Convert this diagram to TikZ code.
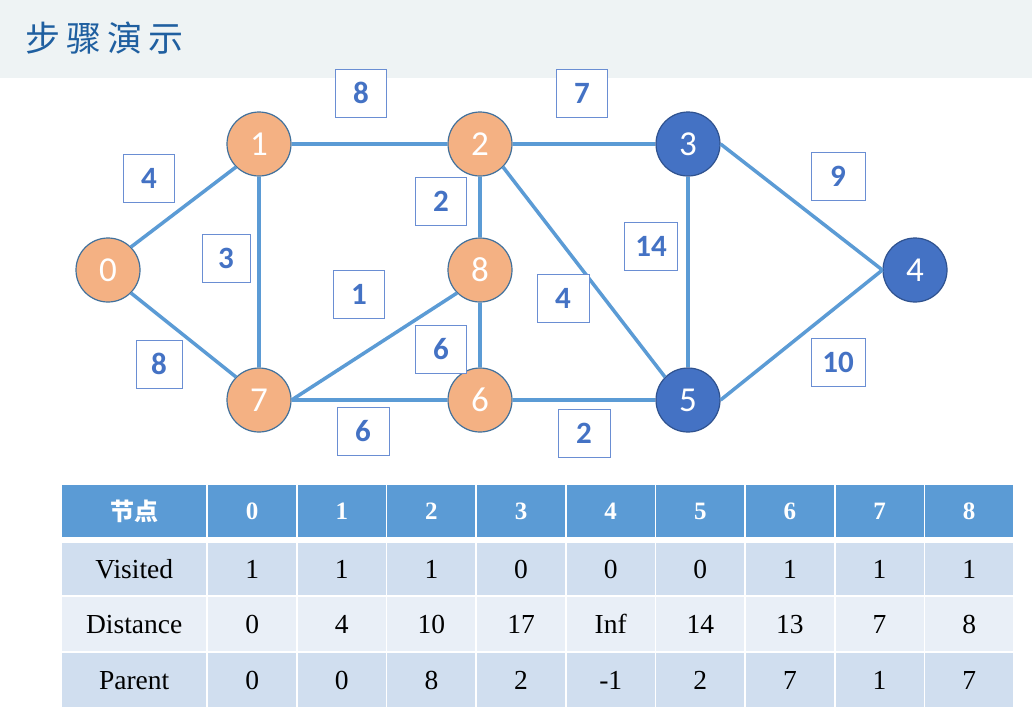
\documentclass[tikz,border=0pt]{standalone}
\usepackage{fontspec}
\setmainfont{Liberation Serif}
\newfontfamily\cjk{Noto Sans CJK SC}
\newfontfamily\calib{Carlito}
\definecolor{edgeblue}{HTML}{5B9BD5}
\definecolor{ofill}{HTML}{F4B183}
\definecolor{oline}{HTML}{41719C}
\definecolor{bfill}{HTML}{4472C4}
\definecolor{bline}{HTML}{2F528F}
\definecolor{lblue}{HTML}{D0DEEF}
\definecolor{llblue}{HTML}{E9EFF7}
\definecolor{hdr}{HTML}{5B9BD5}
\definecolor{titlebar}{HTML}{EEF3F4}
\definecolor{titletext}{HTML}{1F5FA0}
\definecolor{lbltext}{HTML}{4472C4}
\definecolor{lblline}{HTML}{6A8ED3}
\tikzset{
  vtx/.style={circle,minimum size=64pt,inner sep=0pt,line width=1.2pt,text=white,
    font=\calib\fontsize{35}{38}\selectfont},
  ovtx/.style={vtx,fill=ofill,draw=oline},
  bvtx/.style={vtx,fill=bfill,draw=bline},
  edge/.style={draw=edgeblue,line width=3.5pt},
  wlabel/.style={draw=lblline,line width=0.9pt,fill=white,minimum width=51pt,minimum height=48pt,
    inner sep=0pt,text=lbltext,font=\calib\bfseries\fontsize{31}{34}\selectfont},
  cell/.style={anchor=north west,inner sep=0pt,minimum height=#1,text=black,
    font=\fontsize{27.5}{30}\selectfont},
  hcell/.style={anchor=north west,inner sep=0pt,minimum height=52pt,fill=hdr,text=white,
    font=\bfseries\fontsize{25}{30}\selectfont}
}
\begin{document}
\begin{tikzpicture}[x=1pt,y=-1pt]
\useasboundingbox (0,0) rectangle (1032,721);
\fill[white] (0,0) rectangle (1032,721);
\fill[titlebar] (0,0) rectangle (1032,78);
\node[anchor=west,inner sep=0pt,text=titletext,font=\cjk\fontsize{35}{40}\selectfont] (title) at (25,38) {步\hspace{6pt}骤\hspace{6pt}演\hspace{6pt}示};

% vertices
\node[ovtx] (n0) at (108,270) {0};
\node[ovtx] (n1) at (259,144) {1};
\node[ovtx] (n2) at (480,144) {2};
\node[bvtx] (n3) at (688,144) {3};
\node[bvtx] (n4) at (915,270) {4};
\node[bvtx] (n5) at (688,400) {5};
\node[ovtx] (n6) at (480,400) {6};
\node[ovtx] (n7) at (259,400) {7};
\node[ovtx] (n8) at (480,270) {8};

% edges
\draw[edge] (n0.north east) -- (n1.south west);
\draw[edge] (n0.south east) -- (n7.north west);
\draw[edge] (n1.east) -- (n2.west);
\draw[edge] (n1.south) -- (n7.north);
\draw[edge] (n2.east) -- (n3.west);
\draw[edge] (n2.south) -- (n8.north);
\draw[edge] (n2.south east) -- (n5.north west);
\draw[edge] (n3.south) -- (n5.north);
\draw[edge] (n3.east) -- (n4.west);
\draw[edge] (n4.west) -- (n5.east);
\draw[edge] (n7.east) -- (n8.south west);
\draw[edge] (n8.south) -- (n6.north);
\draw[edge] (n7.east) -- (n6.west);
\draw[edge] (n6.east) -- (n5.west);

% weight labels
\node[wlabel] (w12) at (361,93) {8};
\node[wlabel] (w23) at (582,93) {7};
\node[wlabel] (w01) at (149,178) {4};
\node[wlabel] (w28) at (441,201) {2};
\node[wlabel,minimum width=54pt] (w34) at (838,176) {9};
\node[wlabel,minimum width=48pt] (w17) at (226,258) {3};
\node[wlabel,minimum width=53pt] (w35) at (651,246) {14};
\node[wlabel] (w78) at (359,294) {1};
\node[wlabel,minimum width=52pt] (w25) at (563,298) {4};
\node[wlabel] (w86) at (441,349) {6};
\node[wlabel,minimum width=46pt] (w07) at (159,364) {8};
\node[wlabel,minimum width=54pt] (w45) at (838,362) {10};
\node[wlabel,minimum width=52pt] (w76) at (363,431) {6};
\node[wlabel,minimum width=52pt] (w65) at (584,433) {2};

% table header
\node[hcell,minimum width=144pt,font=\cjk\bfseries\fontsize{24}{30}\selectfont] (h) at (62,485) {节点};
\foreach \i in {0,...,8}{
  \node[hcell,minimum width=88pt] (h\i) at ({208+89.625*\i},485) {\i};
}
% rows
\foreach \r/\top/\h/\lab/\rc/\vals in {
  1/543/52/Visited/lblue/{1/o,1/o,1/o,0/b,0/b,0/b,1/o,1/o,1/o},
  2/597/54/Distance/llblue/{0/o,4/o,10/o,17/b,Inf/b,14/b,13/o,7/o,8/o},
  3/653/54/Parent/lblue/{0/o,0/o,8/o,2/b,-1/b,2/b,7/o,1/o,7/o}}{
  \node[cell=\h pt,minimum width=144pt,fill=\rc] (r\r) at (62,\top) {\lab};
  \foreach \v/\c [count=\i from 0] in \vals {
    \ifx\c o\def\cc{ofill}\else\let\cc\rc\fi
    \node[cell=\h pt,minimum width=88pt,fill=\cc] (r\r c\i) at ({208+89.625*\i},\top) {\v};
  }
}
\end{tikzpicture}
\end{document}
